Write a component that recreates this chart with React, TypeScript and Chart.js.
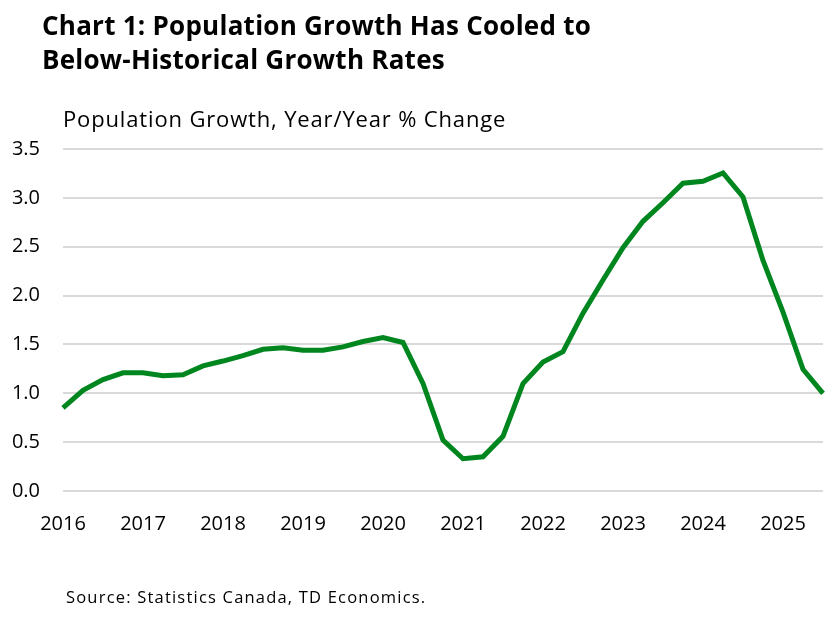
import React, { useEffect, useRef } from "react";
import { Chart, registerables } from "chart.js";

Chart.register(...registerables);

const quarterLabels = [
  "2016Q1", "2016Q2", "2016Q3", "2016Q4",
  "2017Q1", "2017Q2", "2017Q3", "2017Q4",
  "2018Q1", "2018Q2", "2018Q3", "2018Q4",
  "2019Q1", "2019Q2", "2019Q3", "2019Q4",
  "2020Q1", "2020Q2", "2020Q3", "2020Q4",
  "2021Q1", "2021Q2", "2021Q3", "2021Q4",
  "2022Q1", "2022Q2", "2022Q3", "2022Q4",
  "2023Q1", "2023Q2", "2023Q3", "2023Q4",
  "2024Q1", "2024Q2", "2024Q3", "2024Q4",
  "2025Q1", "2025Q2", "2025Q3",
];

const populationGrowth = [
  0.85, 1.03, 1.14, 1.21,
  1.21, 1.18, 1.19, 1.28,
  1.33, 1.385, 1.45, 1.465,
  1.44, 1.44, 1.475, 1.53,
  1.57, 1.52, 1.1, 0.52,
  0.33, 0.35, 0.56, 1.1,
  1.32, 1.425, 1.82, 2.16,
  2.49, 2.76, 2.95, 3.15,
  3.17, 3.255, 3.01, 2.36,
  1.83, 1.245, 1.0,
];

const yMin = 0;
const yMax = 3.5;
const yStep = 0.5;

const titleLines = [
  "Chart 1: Population Growth Has Cooled to",
  "Below-Historical Growth Rates",
];
const axisTitle = "Population Growth, Year/Year % Change";
const sourceText = "Source: Statistics Canada, TD Economics.";

const FONT = "'Open Sans', sans-serif";

export default function App() {
  const canvasRef = useRef<HTMLCanvasElement | null>(null);

  useEffect(() => {
    const canvas = canvasRef.current;
    if (!canvas) return;
    const chart = new Chart(canvas, {
      type: "line",
      data: {
        labels: quarterLabels,
        datasets: [
          {
            data: populationGrowth,
            borderColor: "#00861e",
            backgroundColor: "#00861e",
            borderWidth: 5,
            pointRadius: 0,
            tension: 0,
            fill: false,
          },
        ],
      },
      options: {
        animation: false,
        responsive: false,
        layout: { padding: { top: 149, right: 4, left: 0, bottom: 0 } },
        plugins: {
          legend: { display: false },
          tooltip: { enabled: false },
          title: { display: false },
        },
        scales: {
          x: {
            type: "category",
            offset: false,
            grid: { display: false, drawTicks: true, tickLength: 21 },
            border: { display: false },
            ticks: {
              autoSkip: false,
              maxRotation: 0,
              minRotation: 0,
              padding: 0,
              color: "#000",
              font: { family: FONT, size: 20 },
              callback: (_v: any, i: number) => {
                const l = quarterLabels[i];
                return l.endsWith("Q1") ? l.slice(0, 4) : "";
              },
            },
            afterFit: (scale: any) => {
              scale.height = 126;
              scale.paddingLeft = 0;
              scale.paddingRight = 0;
            },
          },
          y: {
            min: yMin,
            max: yMax,
            grid: { color: "#d9d9d9", lineWidth: 2, drawTicks: false },
            border: { display: false },
            ticks: {
              stepSize: yStep,
              padding: 23,
              color: "#000",
              font: { family: FONT, size: 20 },
              callback: (v: any) => Number(v).toFixed(1),
            },
            afterFit: (scale: any) => {
              scale.width = 63;
            },
          },
        },
      },
    });
    return () => chart.destroy();
  }, []);

  return (
    <div
      style={{
        position: "fixed",
        left: 0,
        top: 0,
        width: 827,
        height: 617,
        background: "#fff",
        overflow: "hidden",
      }}
    >
      <canvas
        ref={canvasRef}
        width={827}
        height={617}
        style={{ position: "absolute", left: 0, top: 0 }}
      />
      <div
        style={{
          position: "absolute",
          left: 42,
          top: 8,
          fontFamily: FONT,
          fontWeight: 700,
          fontSize: 26,
          lineHeight: "34px",
          color: "#000",
          letterSpacing: "0.25px",
          whiteSpace: "nowrap",
        }}
      >
        {titleLines.map((t) => (
          <div key={t}>{t}</div>
        ))}
      </div>
      <div
        style={{
          position: "absolute",
          left: 63,
          top: 103,
          fontFamily: FONT,
          fontSize: 22,
          lineHeight: "30px",
          color: "#000",
          letterSpacing: "0.85px",
          whiteSpace: "nowrap",
        }}
      >
        {axisTitle}
      </div>
      <div
        style={{
          position: "absolute",
          left: 66,
          top: 586,
          fontFamily: FONT,
          fontSize: 16.5,
          lineHeight: "22px",
          color: "#000",
          letterSpacing: "1.2px",
          whiteSpace: "nowrap",
        }}
      >
        {sourceText}
      </div>
    </div>
  );
}
